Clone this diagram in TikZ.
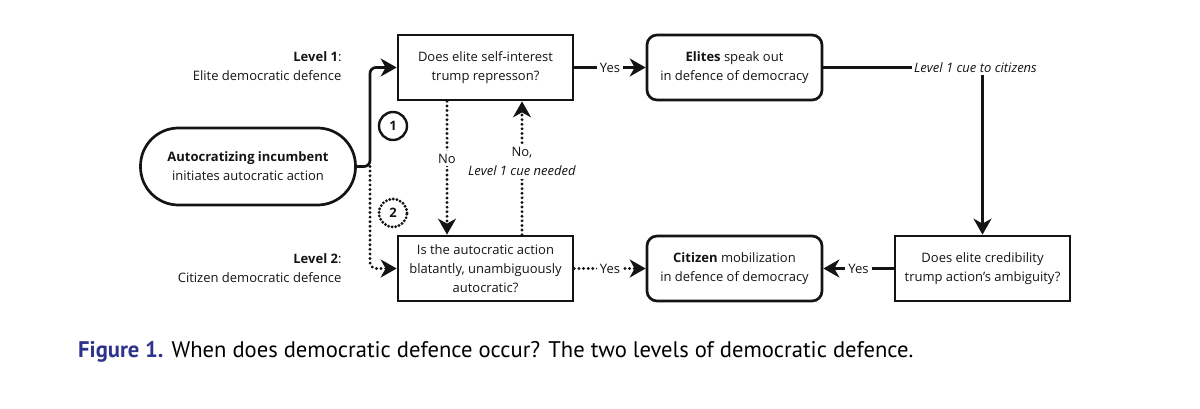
\documentclass[tikz,border=0pt]{standalone}
\usepackage{fontspec}
\setmainfont{Open Sans}
\newfontfamily\capfont{PT Sans}
\usetikzlibrary{arrows.meta,positioning}
\definecolor{ink}{RGB}{20,20,20}
\definecolor{capblue}{RGB}{45,50,140}
\begin{document}
\begin{tikzpicture}[x=1pt,y=-1pt,
  every node/.style={font=\fontsize{13}{19}\selectfont, text=ink},
  qbox/.style={draw=ink, line width=2.7pt, minimum width=175pt, minimum height=65pt, align=center, inner sep=0pt},
  rbox/.style={qbox, rounded corners=10pt},
  conn/.style={draw=ink, line width=2.7pt},
  flow/.style={conn, -{Stealth[length=16pt,width=18pt,inset=5pt]}},
  dots/.style={line width=3.2pt, line cap=round, dash pattern=on 0pt off 4.6pt},
  lab/.style={fill=white, inner sep=3pt},
  num/.style={circle, draw=ink, line width=2.4pt, minimum size=28pt, inner sep=0pt, font=\fontsize{13}{15}\selectfont\bfseries}]
\useasboundingbox (0,0) rectangle (1200,409);
\node[qbox] (q1) at (485.5,67.5) {Does elite self-interest\\trump represson?};
\node[rbox] (elite) at (734.5,67.5) {\textbf{Elites} speak out\\in defence of democracy};
\node[qbox] (q2) at (485.5,268.5) {Is the autocratic action\\blatantly, unambiguously\\autocratic?};
\node[rbox] (cit) at (734.5,268.5) {\textbf{Citizen} mobilization\\in defence of democracy};
\node[qbox] (q3) at (982.5,268.5) {Does elite credibility\\trump action's ambiguity?};
\node[conn, minimum width=215pt, minimum height=77pt, rounded corners=38pt, align=center, inner sep=0pt] (auto) at (248,166.5) {\textbf{Autocratizing incumbent}\\initiates autocratic action};
\node[align=right, anchor=east] (l1) at (345,66.5) {\textbf{Level 1}:\\Elite democratic defence};
\node[align=right, anchor=east] (l2) at (345,268) {\textbf{Level 2}:\\Citizen democratic defence};
\node[num] (c1) at (393,126) {1};
\node[num, dots, dash pattern=on 0pt off 3.6pt] (c2) at (393,213) {2};
\node[anchor=west, inner sep=2pt, font=\fontsize{13}{15}\selectfont\itshape] (cue) at (912,67.5) {Level 1 cue to citizens};
\coordinate (split) at (370,166.5);
\draw[flow, rounded corners=6pt] (auto.east) -- (split) |- (q1.west);
\draw[flow, dots, rounded corners=6pt] (split) |- (q2.west);
\draw[flow, dots] ([xshift=-38.5pt]q1.south) -- node[lab, pos=0.43] {No} ([xshift=-38.5pt]q2.north);
\draw[flow, dots] ([xshift=36.5pt]q2.north) -- node[lab, pos=0.55, align=center] {No,\\\textit{Level 1 cue needed}} ([xshift=36.5pt]q1.south);
\draw[flow] (q1.east) -- node[lab] {Yes} (elite.west);
\draw[conn] (elite.east) -- (cue.west);
\draw[flow] (cue.south -| q3.north) -- (q3.north);
\draw[flow, dots] (q2.east) -- node[lab] {Yes} (cit.west);
\draw[flow] (q3.west) -- node[lab] {Yes} (cit.east);
\node[anchor=west, inner sep=0pt, font=\capfont\fontsize{22.6}{26}\selectfont, text=black] (cap) at (78,352) {\textcolor{capblue}{\textbf{Figure 1.}} When does democratic defence occur? The two levels of democratic defence.};
\end{tikzpicture}
\end{document}
